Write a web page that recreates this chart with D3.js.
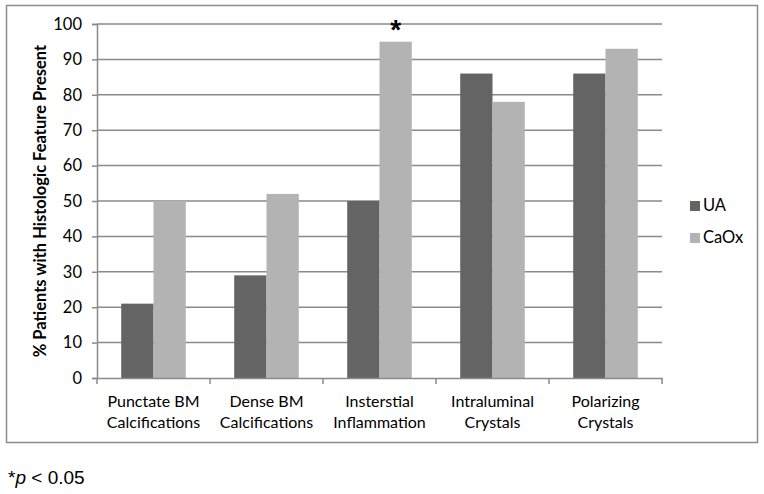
<!DOCTYPE html>
<html>
<head>
<meta charset="utf-8">
<script src="https://cdn.jsdelivr.net/npm/d3@7"></script>
<style>
  body { margin: 0; background: #fff; }
  svg text { font-family: Lato, "Open Sans", sans-serif; }
</style>
</head>
<body>
<div id="chart"></div>
<script>
const categories = [
  ["Punctate BM", "Calcifications"],
  ["Dense BM", "Calcifications"],
  ["Insterstial", "Inflammation"],
  ["Intraluminal", "Crystals"],
  ["Polarizing", "Crystals"]
];
const seriesNames = ["UA", "CaOx"];
const uaValues = [21, 29, 50, 86, 86];
const caoxValues = [50, 52, 95, 78, 93];
const yTicks = [0, 10, 20, 30, 40, 50, 60, 70, 80, 90, 100];
const significant = [2]; // index of category marked with *

const width = 764, height = 494;
const colors = { UA: "#646464", CaOx: "#b3b3b3" };

const svg = d3.select("#chart")
  .append("svg")
  .attr("width", width)
  .attr("height", height);

// outer chart frame
svg.append("rect")
  .attr("x", 6.5).attr("y", 5.5)
  .attr("width", 751).attr("height", 437)
  .attr("fill", "none")
  .attr("stroke", "#8c8c8c")
  .attr("stroke-width", 1.5);

const margin = { top: 24, left: 97 };
const plotW = 565, plotH = 354;
const g = svg.append("g").attr("transform", `translate(${margin.left},${margin.top})`);

const keys = categories.map((d, i) => i);
const x = d3.scaleBand().domain(keys).range([0, plotW]).paddingInner(0).paddingOuter(0);
const xs = d3.scaleBand().domain(seriesNames).range([0, x.bandwidth() * 2 / 3.5]);
const barOffset = x.bandwidth() * 0.75 / 3.5;
const y = d3.scaleLinear().domain([0, 100]).range([plotH, 0]);

// gridlines
g.selectAll(".grid")
  .data(yTicks.filter(d => d > 0))
  .enter().append("line")
  .attr("x1", 0).attr("x2", plotW)
  .attr("y1", d => y(d)).attr("y2", d => y(d))
  .attr("stroke", "#8a8a8a")
  .attr("stroke-width", 1.5);

// y axis
const yAxis = g.append("g")
  .call(d3.axisLeft(y).tickValues(yTicks).tickSize(5).tickPadding(10));
yAxis.select(".domain").attr("stroke", "#8a8a8a").attr("stroke-width", 1.5);
yAxis.selectAll(".tick line").attr("stroke", "#8a8a8a").attr("stroke-width", 1.5);
yAxis.selectAll(".tick text").attr("font-size", 16.5).attr("fill", "#000")
  .style("font-family", "Lato, sans-serif");

// bars
const data = categories.map((c, i) => ({ i, UA: uaValues[i], CaOx: caoxValues[i] }));
const groups = g.selectAll(".cat")
  .data(data)
  .enter().append("g")
  .attr("transform", d => `translate(${x(d.i) + barOffset},0)`);

groups.selectAll("rect")
  .data(d => seriesNames.map(s => ({ s, v: d[s] })))
  .enter().append("rect")
  .attr("x", d => xs(d.s))
  .attr("width", xs.bandwidth())
  .attr("y", d => y(d.v))
  .attr("height", d => plotH - y(d.v))
  .attr("fill", d => colors[d.s]);

// x axis
const xAxis = g.append("g")
  .attr("transform", `translate(0,${plotH})`)
  .call(d3.axisBottom(x).tickSize(0).tickFormat(""));
xAxis.select(".domain").attr("stroke", "#8a8a8a").attr("stroke-width", 1.5);
g.selectAll(".xtick")
  .data(d3.range(categories.length + 1))
  .enter().append("line")
  .attr("x1", d => d * x.step()).attr("x2", d => d * x.step())
  .attr("y1", plotH).attr("y2", plotH + 6)
  .attr("stroke", "#8a8a8a").attr("stroke-width", 1.5);

// category labels
const labels = g.selectAll(".xlabel")
  .data(categories)
  .enter().append("text")
  .attr("text-anchor", "middle")
  .attr("font-size", 16)
  .attr("fill", "#000")
  .attr("transform", (d, i) => `translate(${x(i) + x.bandwidth() / 2},${plotH + 29})`);
labels.selectAll("tspan")
  .data(d => d)
  .enter().append("tspan")
  .attr("x", 0)
  .attr("dy", (d, j) => j === 0 ? 0 : 21)
  .text(d => d);

// significance asterisk
g.selectAll(".star")
  .data(significant)
  .enter().append("text")
  .attr("x", i => x(i) + barOffset + xs("CaOx") + xs.bandwidth() / 2)
  .attr("y", i => y(caoxValues[i]) - 3)
  .attr("text-anchor", "middle")
  .attr("font-size", 28)
  .attr("font-weight", "bold")
  .style("font-family", "Liberation Sans, Arial, sans-serif")
  .text("*");

// y axis title
svg.append("text")
  .attr("transform", "translate(46,201) rotate(-90)")
  .attr("text-anchor", "middle")
  .attr("font-size", 16.5)
  .attr("font-weight", "bold")
  .attr("fill", "#000")
  .text("% Patients with Histologic Feature Present");

// legend
const legend = svg.append("g").attr("transform", "translate(690,201)");
const li = legend.selectAll("g")
  .data(seriesNames)
  .enter().append("g")
  .attr("transform", (d, i) => `translate(0,${i * 32})`);
li.append("rect")
  .attr("width", 10).attr("height", 10)
  .attr("fill", d => colors[d]);
li.append("text")
  .attr("x", 13).attr("y", 10)
  .attr("font-size", 16.5)
  .attr("fill", "#000")
  .text(d => d);

// footnote
const foot = svg.append("text")
  .attr("x", 8).attr("y", 484)
  .attr("font-size", 19)
  .attr("fill", "#000")
  .style("font-family", "Liberation Sans, Arial, sans-serif");
foot.append("tspan").text("*");
foot.append("tspan").attr("font-style", "italic").text("p");
foot.append("tspan").text(" < 0.05");
</script>
</body>
</html>
